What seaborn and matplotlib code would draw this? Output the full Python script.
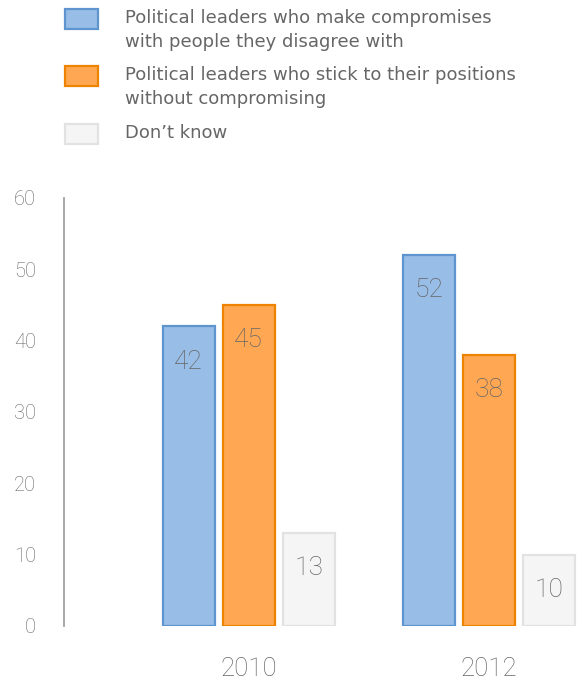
import pandas as pd
import seaborn as sns
import matplotlib.pyplot as plt

# dados
anos = ['2010', '2012']
series = [
    'Political leaders who make compromises\nwith people they disagree with',
    'Political leaders who stick to their positions\nwithout compromising',
    'Don\u2019t know',
]
compromisso = [42, 52]
posicao = [45, 38]
nao_sabe = [13, 10]

df = pd.DataFrame({
    'Ano': anos * 3,
    'Serie': [series[0]] * 2 + [series[1]] * 2 + [series[2]] * 2,
    'Valor': compromisso + posicao + nao_sabe,
})

cores = ['#98BDE6', '#FFA752', '#F5F5F5']
bordas = ['#5E95CF', '#EE8300', '#E2E2E2']
cinza = '#666666'

sns.set_style('white')
plt.rcParams['font.family'] = ['Roboto', 'DejaVu Sans']

fig = plt.figure(figsize=(5.8, 6.81), dpi=100)
ax = fig.add_axes([0.1103, 0.0808, 0.8897, 0.6285])

sns.barplot(data=df, x='Ano', y='Valor', hue='Serie', hue_order=series,
            palette=cores, saturation=1, width=0.75, gap=0.13, errorbar=None,
            ax=ax, legend=False)

for cont, borda in zip(ax.containers, bordas):
    for p in cont:
        p.set_edgecolor(borda)
        p.set_linewidth(1.6)
    ax.bar_label(cont, padding=-34, fontsize=19, color=cinza, fontweight='light')

ax.set_ylim(0, 60)
ax.set_xlim(-0.77, 1.38)
ax.set_yticks(range(0, 61, 10))
ax.set_xlabel('')
ax.set_ylabel('')
sns.despine(ax=ax, top=True, right=True, bottom=True)
ax.spines['left'].set_color('#999999')
ax.spines['left'].set_linewidth(1.2)
ax.tick_params(axis='y', length=6, width=1, color='#999999', pad=14,
               labelsize=14.5, labelcolor=cinza)
ax.tick_params(axis='x', length=0, pad=22, labelsize=18.5, labelcolor=cinza)
for t in ax.get_xticklabels() + ax.get_yticklabels():
    t.set_fontweight('light')

handles = [cont.patches[0] for cont in ax.containers]
leg = fig.legend(handles, series, loc='upper left', bbox_to_anchor=(0.112, 0.987),
                 frameon=False, borderpad=0, borderaxespad=0,
                 prop={'family': 'DejaVu Sans', 'size': 13},
                 handlelength=1.83, handleheight=1.33, handletextpad=1.5,
                 labelspacing=0.85)
for t in leg.get_texts():
    t.set_color(cinza)
    t.set_linespacing(1.43)
leg._legend_handle_box.align = 'left'
for coluna in leg._legend_handle_box.get_children():
    coluna.align = 'left'
    for hp in coluna.get_children():
        hp.align = 'top'

plt.savefig('out.png', dpi=100)
